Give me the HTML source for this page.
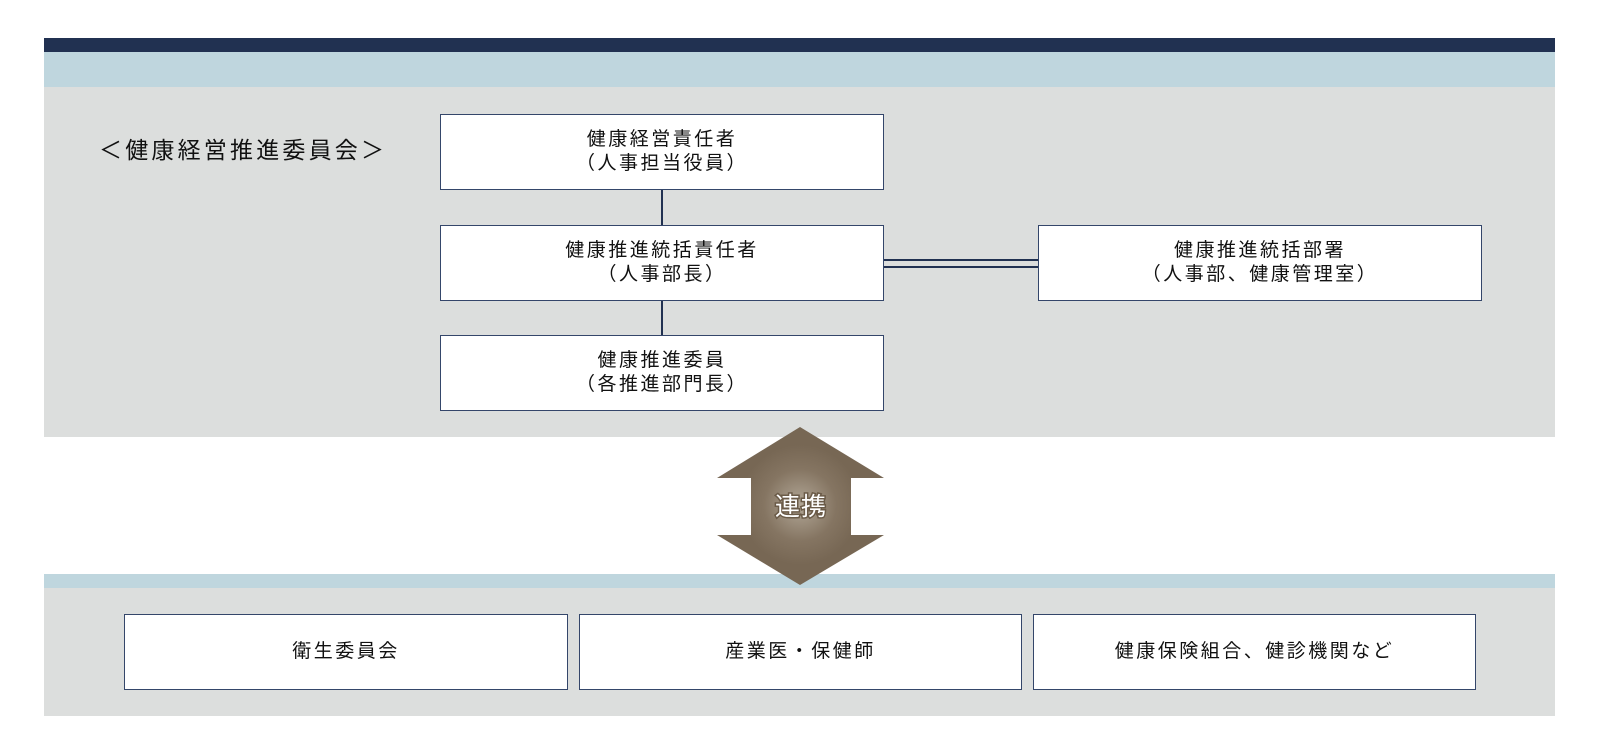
<!DOCTYPE html>
<html><head><meta charset="utf-8"><style>
body{margin:0;width:1600px;height:755px;background:#fff;position:relative;overflow:hidden;font-family:"Liberation Sans","Noto Sans CJK JP",sans-serif;color:#111}
.a{position:absolute}
.box{position:absolute;background:#fff;border:1.5px solid #34466a;box-sizing:border-box;display:flex;align-items:center;justify-content:center;text-align:center;font-size:19px;line-height:24px;letter-spacing:2.5px}
</style></head><body>
<div class="a" style="left:44px;top:38px;width:1511px;height:14px;background:#213151"></div>
<div class="a" style="left:44px;top:52px;width:1511px;height:35px;background:#bfd6de"></div>
<div class="a" style="left:44px;top:87px;width:1511px;height:350px;background:#dcdedd"></div>
<div class="a" style="left:44px;top:574px;width:1511px;height:14px;background:#bfd6de"></div>
<div class="a" style="left:44px;top:588px;width:1511px;height:128px;background:#dcdedd"></div>
<div class="a" style="left:99px;top:135px;font-size:23px;letter-spacing:3.2px;line-height:30px">＜健康経営推進委員会＞</div>
<div class="a" style="left:661px;top:190px;width:2px;height:35px;background:#213151"></div>
<div class="a" style="left:661px;top:300px;width:2px;height:35px;background:#213151"></div>
<div class="a" style="left:884px;top:259px;width:154px;height:2px;background:#213151"></div>
<div class="a" style="left:884px;top:266px;width:154px;height:2px;background:#213151"></div>
<div class="box" style="left:440px;top:114px;width:444px;height:76px">健康経営責任者<br>（人事担当役員）</div>
<div class="box" style="left:440px;top:225px;width:444px;height:76px">健康推進統括責任者<br>（人事部長）</div>
<div class="box" style="left:440px;top:335px;width:444px;height:76px">健康推進委員<br>（各推進部門長）</div>
<div class="box" style="left:1038px;top:225px;width:444px;height:76px">健康推進統括部署<br>（人事部、健康管理室）</div>
<div class="box" style="left:124px;top:614px;width:444px;height:76px">衛生委員会</div>
<div class="box" style="left:579px;top:614px;width:443px;height:76px">産業医・保健師</div>
<div class="box" style="left:1033px;top:614px;width:443px;height:76px">健康保険組合、健診機関など</div>
<svg class="a" style="left:0;top:0" width="1600" height="755">
<defs><radialGradient id="g" cx="800" cy="505" r="60" gradientUnits="userSpaceOnUse">
<stop offset="0" stop-color="#b2a797"/><stop offset="0.6" stop-color="#857562"/><stop offset="1" stop-color="#776754"/></radialGradient></defs>
<polygon points="800,427 884,478 851,478 851,535 884,535 800,585 717,535 751,535 751,478 717,478" fill="url(#g)"/>
<text x="801" y="515" text-anchor="middle" font-size="25" fill="#fff" stroke="#6b5b48" stroke-width="3" paint-order="stroke" font-family="Liberation Sans,Noto Sans CJK JP,sans-serif" letter-spacing="1">連携</text>
</svg>
</body></html>
